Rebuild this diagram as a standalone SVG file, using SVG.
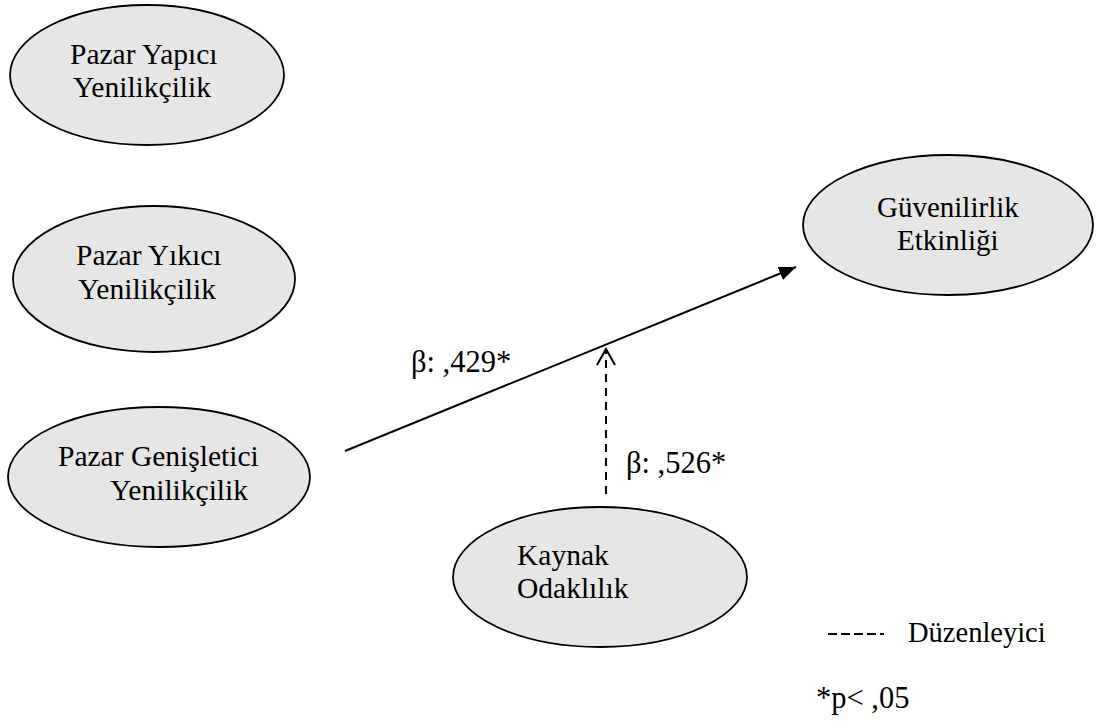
<svg xmlns="http://www.w3.org/2000/svg" width="1098" height="722" viewBox="0 0 1098 722">
<style>
.node ellipse{fill:#e6e6e6;stroke:#000;stroke-width:1.8}
text{font-family:'Liberation Serif','Times New Roman',Times,serif;font-size:29.5px;fill:#000}
.lbl{font-size:30.5px}
.conn line{stroke:#000;stroke-width:2;fill:none}
.dash{stroke-dasharray:8,6}
</style>
<defs>
<marker id="fill" markerUnits="userSpaceOnUse" viewBox="0 0 17 14" refX="17" refY="7" markerWidth="17" markerHeight="14" orient="auto">
<path d="M0,0 L17,7 L0,14 Z" fill="#000"/>
</marker>
<marker id="open" markerUnits="userSpaceOnUse" viewBox="0 0 20 22" refX="18" refY="11" markerWidth="20" markerHeight="22" orient="auto">
<path d="M2,2 L18,11 L2,20" fill="none" stroke="#000" stroke-width="2"/>
</marker>
</defs>
<rect width="1098" height="722" fill="#fff"/>
<g id="n1" class="node"><ellipse cx="147" cy="75" rx="137" ry="70"/><text x="70" y="64">Pazar Yapıcı</text><text x="73" y="97">Yenilikçilik</text></g>
<g id="n2" class="node"><ellipse cx="154" cy="279" rx="141" ry="73"/><text x="76" y="265">Pazar Yıkıcı</text><text x="78" y="299">Yenilikçilik</text></g>
<g id="n3" class="node"><ellipse cx="159" cy="477" rx="151" ry="70"/><text x="58" y="466">Pazar Genişletici</text><text x="110" y="500">Yenilikçilik</text></g>
<g id="n4" class="node"><ellipse cx="600" cy="577" rx="147" ry="70"/><text x="517" y="565">Kaynak</text><text x="517" y="598">Odaklılık</text></g>
<g id="n5" class="node"><ellipse cx="948" cy="225" rx="145" ry="70"/><text x="877" y="217" style="font-size:29px">Güvenilirlik</text><text x="897" y="250" style="font-size:29px">Etkinliği</text></g>
<g id="connectors" class="conn">
<line x1="345" y1="451" x2="796" y2="267" marker-end="url(#fill)"/>
<line class="dash" x1="606" y1="494" x2="606" y2="349" marker-end="url(#open)"/>
</g>
<g id="labels">
<text class="lbl" x="411" y="372">β: ,429*</text>
<text class="lbl" x="626" y="473">β: ,526*</text>
</g>
<g id="legend">
<line x1="828" y1="634" x2="884" y2="634" stroke="#000" stroke-width="2" stroke-dasharray="9,4"/>
<text x="908" y="642" style="font-size:28.5px">Düzenleyici</text>
<text class="lbl" x="816" y="708">*p&lt; ,05</text>
</g>
</svg>
